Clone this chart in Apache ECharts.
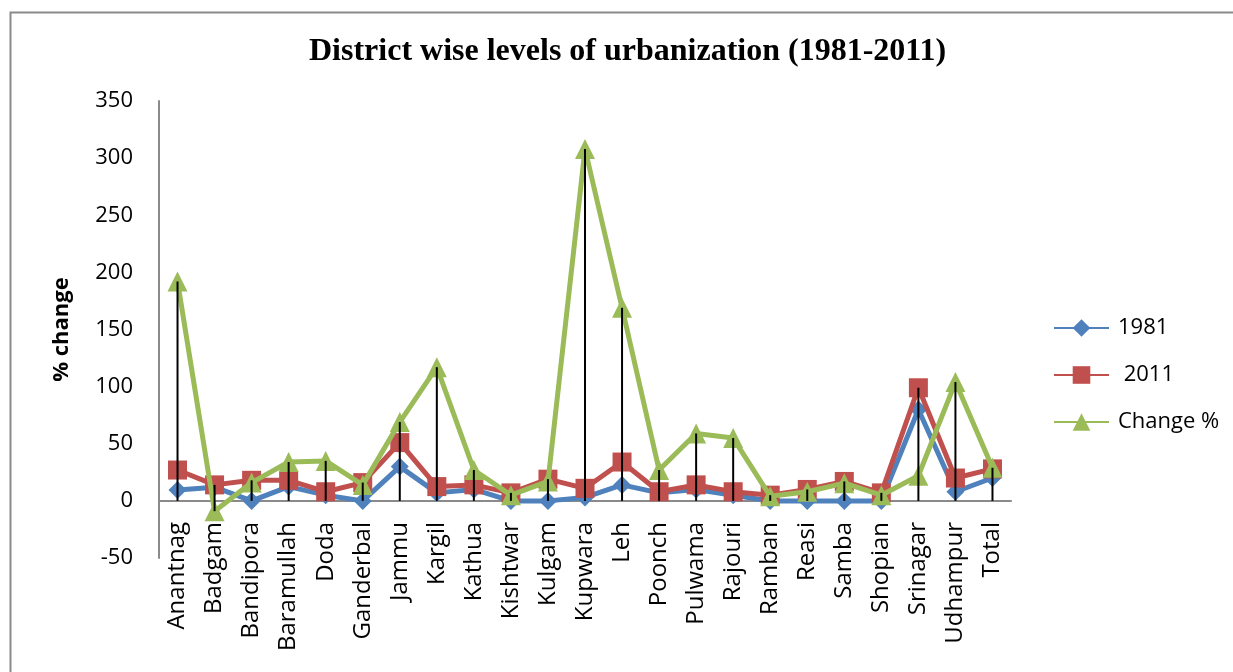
<!DOCTYPE html>
<html>
<head>
<meta charset="utf-8">
<script src="https://cdn.jsdelivr.net/npm/echarts@6/dist/echarts.min.js"></script>
<style>
html,body{margin:0;padding:0;background:#fff;}
#chart{width:1233px;height:672px;}
</style>
</head>
<body>
<div id="chart"></div>
<script>
const categories = ["Anantnag","Badgam","Bandipora","Baramullah","Doda","Ganderbal","Jammu","Kargil","Kathua","Kishtwar","Kulgam","Kupwara","Leh","Poonch","Pulwama","Rajouri","Ramban","Reasi","Samba","Shopian","Srinagar","Udhampur","Total"];
const values1981 = [9.5, 12, 0, 12.5, 5, 0, 30, 7, 10, 0, 0, 3, 14, 7, 10, 5, 0, 0, 0, 0, 80, 8, 20];
const values2011 = [27, 14, 18, 18, 8, 16, 51, 12.5, 14, 7, 19, 11, 34, 8, 14, 8, 5, 10, 17, 7, 99, 20, 28];
const valuesChange = [192, -9, 16, 34, 35, 14, 69, 117, 27, 5, 17, 308, 169, 27, 59, 55, 4, 8, 15.5, 5, 22, 104, 29];
const seriesNames = ["1981", " 2011", "Change %"];
const yTicks = {min: -50, max: 350, interval: 50};

const dropData = categories.map((c, i) => {
  const vals = [values1981[i], values2011[i], valuesChange[i], 0];
  return [i, Math.min.apply(null, vals), Math.max.apply(null, vals)];
});

const chart = echarts.init(document.getElementById('chart'), null, {renderer: 'canvas'});
const font = '"Open Sans", "Liberation Sans", sans-serif';
chart.setOption({
  backgroundColor: '#fff',
  animation: false,
  graphic: [{
    type: 'rect', left: 8, top: 10, silent: true,
    shape: {x: 0, y: 0, width: 1300, height: 700},
    style: {fill: 'none', stroke: '#8a8a8a', lineWidth: 2}
  }],
  title: {
    text: 'District wise levels of urbanization (1981-2011)',
    left: 304, top: 31,
    textStyle: {fontFamily: '"Liberation Serif", "Times New Roman", serif', fontWeight: 'bold', fontSize: 32, color: '#000'}
  },
  legend: {
    orient: 'vertical', left: 1048, top: 312,
    itemWidth: 55, itemHeight: 22, itemGap: 25,
    data: seriesNames,
    textStyle: {fontFamily: font, fontSize: 22, color: '#000', padding: [0,0,0,4]}
  },
  grid: {left: 159, right: 222, top: 101, bottom: 114, containLabel: false, outerBoundsMode: 'none'},
  xAxis: {
    type: 'category', data: categories, boundaryGap: true,
    axisLine: {onZero: true, lineStyle: {color: '#8a8a8a', width: 2}},
    axisTick: {show: false},
    axisLabel: {rotate: 90, margin: -36, interval: 0, fontFamily: font, fontSize: 24, color: '#000'}
  },
  yAxis: {
    type: 'value', min: yTicks.min, max: yTicks.max, interval: yTicks.interval,
    name: '% change', nameLocation: 'middle', nameGap: 86,
    nameTextStyle: {fontFamily: font, fontSize: 22, fontWeight: 'bold', color: '#000'},
    axisLine: {show: true, lineStyle: {color: '#8a8a8a', width: 2}},
    axisTick: {show: false},
    splitLine: {show: false},
    axisLabel: {margin: 26, fontFamily: font, fontSize: 22, color: '#000'}
  },
  series: [
    {
      name: seriesNames[0], type: 'line', data: values1981, z: 2,
      symbol: 'diamond', symbolSize: 18,
      lineStyle: {color: '#4F81BD', width: 5},
      itemStyle: {color: '#4F81BD'}
    },
    {
      name: seriesNames[1], type: 'line', data: values2011, z: 3,
      symbol: 'rect', symbolSize: 19,
      lineStyle: {color: '#C0504D', width: 5},
      itemStyle: {color: '#C0504D'}
    },
    {
      name: seriesNames[2], type: 'line', data: valuesChange, z: 4,
      symbol: 'triangle', symbolSize: 20,
      lineStyle: {color: '#9BBB59', width: 5},
      itemStyle: {color: '#9BBB59'}
    },
    {
      name: 'drop', type: 'custom', z: 10, silent: true,
      data: dropData,
      renderItem: function (params, api) {
        const p1 = api.coord([api.value(0), api.value(1)]);
        const p2 = api.coord([api.value(0), api.value(2)]);
        return {type: 'line', shape: {x1: p1[0], y1: p1[1], x2: p2[0], y2: p2[1]},
                style: {stroke: '#000', lineWidth: 2}};
      }
    }
  ]
});
</script>
</body>
</html>
